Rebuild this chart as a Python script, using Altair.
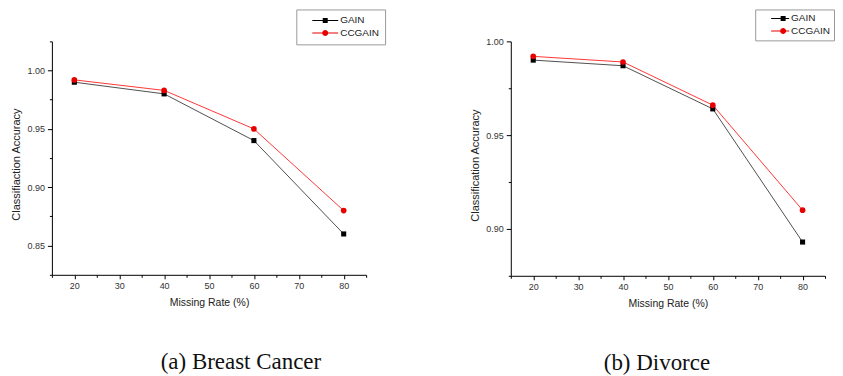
import altair as alt
import pandas as pd

# ---- data ----
RATES = [20, 40, 60, 80]
METHODS = ["GAIN", "CCGAIN"]

BC_GAIN = [0.990, 0.980, 0.940, 0.860]
BC_CCGAIN = [0.992, 0.983, 0.950, 0.880]

DV_GAIN = [0.990, 0.987, 0.964, 0.893]
DV_CCGAIN = [0.992, 0.989, 0.966, 0.910]

X_DOMAIN = [15, 85]
X_TICKS = [15, 20, 25, 30, 35, 40, 45, 50, 55, 60, 65, 70, 75, 80, 85]

BC_Y_DOMAIN = [0.825, 1.025]
BC_Y_TICKS = [0.825, 0.85, 0.875, 0.9, 0.925, 0.95, 0.975, 1.0, 1.025]
DV_Y_DOMAIN = [0.875, 1.0]
DV_Y_TICKS = [0.875, 0.9, 0.925, 0.95, 0.975, 1.0]

CAPTIONS = ["(a) Breast Cancer", "(b) Divorce"]
Y_TITLES = ["Classifiaction Accuracy", "Classification Accuracy"]
X_TITLE = "Missing Rate (%)"

# legend glyphs: a short line with the marker on it
GLYPHS_LEFT = [
    "M1,-0.1H6.2V0.1H1Z M3.1,-0.5H4.1V0.5H3.1Z",
    "M1,-0.1H6.2V0.1H1Z M3,0A0.6,0.6 0 1,1 4.2,0A0.6,0.6 0 1,1 3,0Z",
]
GLYPHS_RIGHT = [
    "M1.4,-0.1H5V0.1H1.4Z M3.3,-0.5H4.3V0.5H3.3Z",
    "M1.4,-0.1H5V0.1H1.4Z M3.2,0A0.6,0.6 0 1,1 4.4,0A0.6,0.6 0 1,1 3.2,0Z",
]

SANS = "Liberation Sans"
SERIF = "Liberation Serif"


def panel(gain, cc, ydomain, yticks, ytitle, caption, dx, height, title_y, leg_opts, glyphs):
    df = pd.DataFrame({
        "rate": RATES + RATES,
        "acc": gain + cc,
        "method": ["GAIN"] * len(RATES) + ["CCGAIN"] * len(RATES),
    })
    x_axis = alt.Axis(
        values=X_TICKS,
        labelExpr="datum.value % 10 == 0 ? datum.label : ''",
        tickSize={"condition": {"test": "datum.value % 10 != 0", "value": 2.5}, "value": 4},
        title=X_TITLE,
        grid=False,
        labelFlush=False,
        labelOverlap=False,
        labelPadding=3,
        titlePadding=7,
    )
    major_y = "abs(datum.value*20 - round(datum.value*20)) < 0.001"
    y_axis = alt.Axis(
        values=yticks,
        format=".2f",
        labelExpr=f"{major_y} ? datum.label : ''",
        tickSize={"condition": {"test": major_y, "value": 4.5}, "value": 2.5},
        title=ytitle,
        grid=False,
        labelOverlap=False,
        labelPadding=3,
        titlePadding=5,
        titleY=title_y,
    )
    base = alt.Chart(df).encode(
        x=alt.X("rate:Q", scale=alt.Scale(domain=X_DOMAIN, nice=False, zero=False), axis=x_axis),
        y=alt.Y("acc:Q", scale=alt.Scale(domain=ydomain, nice=False, zero=False), axis=y_axis),
    )
    line_g = base.transform_filter("datum.method == 'GAIN'").mark_line(color="#3c3c3c", strokeWidth=0.9)
    line_c = base.transform_filter("datum.method == 'CCGAIN'").mark_line(color="#ff2020", strokeWidth=0.9)
    pt_g = base.transform_filter("datum.method == 'GAIN'").mark_point(
        shape="square", filled=True, size=26, color="#000000", opacity=1)
    pt_c = base.transform_filter("datum.method == 'CCGAIN'").mark_point(
        shape="circle", filled=True, size=32, color="#e80000", opacity=1)

    leg = alt.Legend(
        title=None, orient="none",
        strokeColor="#9a9a9a", fillColor="white",
        symbolSize=100, symbolStrokeWidth=0, symbolOpacity=1,
        labelFont=SANS, labelFontSize=10, labelColor="#222222",
        rowPadding=2.5, **leg_opts,
    )
    legend_layer = base.transform_filter("false").mark_point(filled=True, opacity=1).encode(
        color=alt.Color("method:N", scale=alt.Scale(domain=METHODS, range=["#000000", "#e80000"]), legend=leg),
        shape=alt.Shape("method:N", scale=alt.Scale(domain=METHODS, range=glyphs), legend=leg),
    )
    return alt.layer(line_g, line_c, pt_g, pt_c, legend_layer).properties(
        width=315,
        height=height,
        title=alt.TitleParams(
            caption, orient="bottom", anchor="middle", dx=dx, offset=43,
            font=SERIF, fontSize=23, fontWeight="normal", color="#111111",
        ),
    )


left = panel(BC_GAIN, BC_CCGAIN, BC_Y_DOMAIN, BC_Y_TICKS, Y_TITLES[0], CAPTIONS[0], 32, 234, 123,
             dict(legendX=245, legendY=-32, padding=6, labelOffset=28), GLYPHS_LEFT)
right = panel(DV_GAIN, DV_CCGAIN, DV_Y_DOMAIN, DV_Y_TICKS, Y_TITLES[1], CAPTIONS[1], -11, 235, 124,
              dict(legendX=245, legendY=-32, padding=4, labelOffset=22), GLYPHS_RIGHT)

chart = alt.hconcat(left, right, spacing=145, bounds="flush").resolve_scale(
    color="independent", shape="independent"
).resolve_legend(
    color="independent", shape="independent"
).properties(
    padding={"left": 2, "top": 0, "right": 0, "bottom": 0}
).configure_view(stroke=None).configure_axis(
    domainColor="#000000", domainWidth=1, tickColor="#000000", tickWidth=1,
    labelFont=SANS, labelFontSize=9, labelColor="#333333",
    titleFont=SANS, titleFontSize=10.5, titleFontWeight="normal", titleColor="#222222",
).configure_axisY(titleFontSize=11)

chart.save("out.html", embed_options={"renderer": "svg", "actions": False})
